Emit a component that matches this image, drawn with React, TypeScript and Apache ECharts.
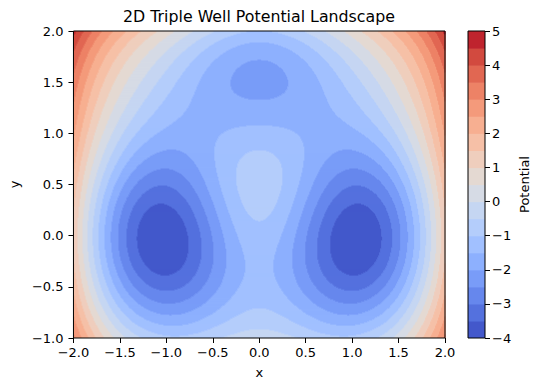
import React, { useEffect, useRef } from 'react';
import * as echarts from 'echarts';

const chartTitle = '2D Triple Well Potential Landscape';
const xLabel = 'x';
const yLabel = 'y';
const colorbarLabel = 'Potential';

const xTicks = [-2, -1.5, -1, -0.5, 0, 0.5, 1, 1.5, 2];
const yTicks = [-1, -0.5, 0, 0.5, 1, 1.5, 2];
const colorbarTicks = [-4, -3, -2, -1, 0, 1, 2, 3, 4, 5];
const levels = [-4, -3.5, -3, -2.5, -2, -1.5, -1, -0.5, 0, 0.5, 1, 1.5, 2, 2.5, 3, 3.5, 4, 4.5, 5];

// Triple-well potential terms (Gaussian wells/barrier + quartic confinement)
const wellCenterX = [0, 0, 1, -1];
const wellCenterY = [1 / 3, 5 / 3, 0, 0];
const wellAmplitude = [3, -3, -5, -5];
const quarticWeight = [0.2, 0.2];
const quarticCenter = [0, 1 / 3];

// coolwarm colormap table
const coolwarm: number[][] = [
  [59, 76, 192], [68, 90, 204], [77, 104, 215], [87, 117, 225], [98, 130, 234], [108, 142, 241],
  [119, 154, 247], [130, 165, 251], [141, 176, 254], [152, 185, 255], [163, 194, 255], [174, 201, 253],
  [184, 208, 249], [194, 213, 244], [204, 217, 238], [213, 219, 230], [221, 221, 221], [229, 216, 209],
  [236, 211, 197], [241, 204, 185], [245, 196, 173], [247, 187, 160], [247, 177, 148], [247, 166, 135],
  [244, 154, 123], [241, 141, 111], [236, 127, 99], [229, 112, 88], [222, 96, 77], [213, 80, 66],
  [203, 62, 56], [192, 40, 47], [180, 4, 38],
];

function cmap(t: number): string {
  const n = coolwarm.length - 1;
  const f = Math.max(0, Math.min(1, t)) * n;
  const i = Math.min(n - 1, Math.floor(f));
  const r = f - i;
  const a = coolwarm[i], b = coolwarm[i + 1];
  const c = [0, 1, 2].map((k) => Math.round(a[k] + (b[k] - a[k]) * r));
  return `rgb(${c[0]},${c[1]},${c[2]})`;
}

const vmin = levels[0];
const vmax = levels[levels.length - 1];
const bandColors = levels.slice(0, -1).map((l, i) => cmap(((l + levels[i + 1]) / 2 - vmin) / (vmax - vmin)));

function potential(x: number, y: number): number {
  let v = 0;
  for (let k = 0; k < wellAmplitude.length; k++) {
    const dx = x - wellCenterX[k];
    const dy = y - wellCenterY[k];
    v += wellAmplitude[k] * Math.exp(-dx * dx - dy * dy);
  }
  v += quarticWeight[0] * Math.pow(x - quarticCenter[0], 4) + quarticWeight[1] * Math.pow(y - quarticCenter[1], 4);
  return v;
}

function bandOf(v: number): number {
  for (let i = 0; i < levels.length - 1; i++) {
    if (v < levels[i + 1]) return i;
  }
  return levels.length - 2;
}

const xMin = xTicks[0], xMax = xTicks[xTicks.length - 1];
const yMin = yTicks[0], yMax = yTicks[yTicks.length - 1];

function buildRuns(nx: number, ny: number): number[][] {
  const runs: number[][] = [];
  const dx = (xMax - xMin) / nx;
  const dy = (yMax - yMin) / ny;
  for (let j = 0; j < ny; j++) {
    const y0 = yMin + j * dy;
    const yc = y0 + dy / 2;
    let start = 0;
    let cur = bandOf(potential(xMin + dx / 2, yc));
    for (let i = 1; i <= nx; i++) {
      const b = i < nx ? bandOf(potential(xMin + (i + 0.5) * dx, yc)) : -1;
      if (b !== cur) {
        runs.push([xMin + start * dx, xMin + i * dx, y0, y0 + dy, cur]);
        start = i;
        cur = b;
      }
    }
  }
  return runs;
}

const fmt1 = (v: number) => (v < 0 ? '\u2212' : '') + Math.abs(v).toFixed(1);
const fmt0 = (v: number) => (v < 0 ? '\u2212' : '') + Math.abs(v).toFixed(0);

const FONT = 'DejaVu Sans';

export default function App() {
  const ref = useRef<HTMLDivElement>(null);
  useEffect(() => {
    if (!ref.current) return;
    const chart = echarts.init(ref.current, undefined, { renderer: 'svg' });
    const runs = buildRuns(372, 307);
    const cbData = levels.slice(0, -1).map((l, i) => [0, 1, l, levels[i + 1], i]);
    const axisCommon = {
      axisLine: { show: false, onZero: false },
      splitLine: { show: false },
      axisTick: { show: true, length: 5, lineStyle: { color: '#000', width: 1 } },
    };
    chart.setOption({
      animation: false,
      backgroundColor: '#fff',
      title: {
        text: chartTitle,
        left: 259,
        top: 8,
        textAlign: 'center',
        padding: 0,
        textStyle: { fontFamily: FONT, fontSize: 15.8, fontWeight: 'normal', color: '#000' },
      },
      grid: [
        { left: 73, top: 31, width: 372, height: 307, show: true, borderColor: '#000', borderWidth: 1, backgroundColor: 'transparent', z: 10 },
        { left: 468, top: 31, width: 17, height: 307, show: true, borderColor: '#000', borderWidth: 1, backgroundColor: 'transparent', z: 10 },
      ],
      xAxis: [
        {
          ...axisCommon,
          type: 'value', gridIndex: 0, min: xMin, max: xMax, interval: 0.5, position: 'bottom',
          axisLabel: { formatter: fmt1, fontFamily: FONT, fontSize: 13, color: '#000', margin: 8 },
          name: xLabel, nameLocation: 'middle', nameGap: 28,
          nameTextStyle: { fontFamily: FONT, fontSize: 13, color: '#000' },
        },
        { type: 'value', gridIndex: 1, min: 0, max: 1, show: false, axisLine: { onZero: false } },
      ],
      yAxis: [
        {
          ...axisCommon,
          type: 'value', gridIndex: 0, min: yMin, max: yMax, interval: 0.5, position: 'left',
          axisLabel: { formatter: fmt1, fontFamily: FONT, fontSize: 13, color: '#000', margin: 10 },
          name: yLabel, nameLocation: 'middle', nameGap: 48, nameRotate: 90,
          nameTextStyle: { fontFamily: FONT, fontSize: 13, color: '#000' },
        },
        {
          ...axisCommon,
          type: 'value', gridIndex: 1, min: vmin, max: vmax, interval: 1, position: 'right',
          axisLabel: { formatter: fmt0, fontFamily: FONT, fontSize: 13, color: '#000', margin: 7 },
          name: colorbarLabel, nameLocation: 'middle', nameGap: 33, nameRotate: 90,
          nameTextStyle: { fontFamily: FONT, fontSize: 13, color: '#000' },
        },
      ],
      series: [
        {
          type: 'custom',
          xAxisIndex: 0,
          yAxisIndex: 0,
          clip: true,
          progressive: 0,
          silent: true,
          data: runs,
          encode: { x: [0, 1], y: [2, 3] },
          renderItem: (params: any, api: any) => {
            const p0 = api.coord([api.value(0), api.value(3)]);
            const p1 = api.coord([api.value(1), api.value(2)]);
            return {
              type: 'rect',
              shape: { x: p0[0], y: p0[1], width: p1[0] - p0[0] + 0.6, height: p1[1] - p0[1] + 0.6 },
              style: { fill: bandColors[api.value(4)] },
            };
          },
        },
        {
          type: 'custom',
          xAxisIndex: 1,
          yAxisIndex: 1,
          clip: true,
          silent: true,
          data: cbData,
          encode: { x: [0, 1], y: [2, 3] },
          renderItem: (params: any, api: any) => {
            const p0 = api.coord([api.value(0), api.value(3)]);
            const p1 = api.coord([api.value(1), api.value(2)]);
            return {
              type: 'rect',
              shape: { x: p0[0], y: p0[1], width: p1[0] - p0[0], height: p1[1] - p0[1] + 0.6 },
              style: { fill: bandColors[api.value(4)] },
            };
          },
        },
      ],
    });
    return () => chart.dispose();
  }, []);
  return <div ref={ref} style={{ position: 'fixed', left: 0, top: 0, width: 543, height: 391 }} />;
}
